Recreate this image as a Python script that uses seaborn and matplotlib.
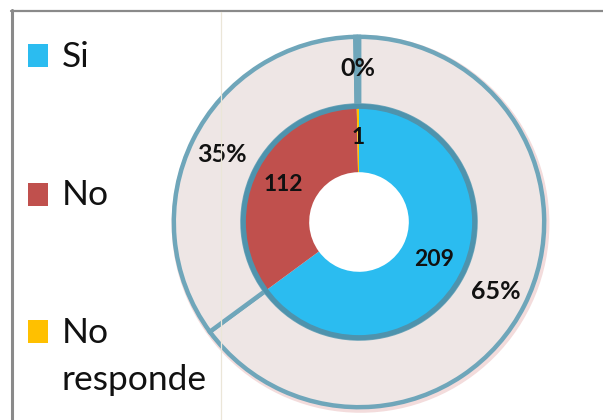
import matplotlib
matplotlib.use("Agg")
import matplotlib.pyplot as plt
import seaborn as sns
from matplotlib.patches import Rectangle, Circle
from matplotlib.lines import Line2D

# ---- data ----
categories = ["Si", "No", "No responde"]
counts = [209, 112, 1]
percent_labels = ["65%", "35%", "0%"]
legend_lines = [["Si"], ["No"], ["No", "responde"]]
colors = ["#2bbcf0", "#c0504d", "#ffc000"]

sns.set_theme(style="white")
plt.rcParams['font.family'] = ['Lato', 'DejaVu Sans']
palette = sns.color_palette(colors)

W, H = 603, 420
fig = plt.figure(figsize=(W / 100, H / 100), dpi=100)
fig.patch.set_facecolor("white")

def fx(px):
    return px / W

def fy(py):
    return 1 - py / H

# frame lines
fig.add_artist(Line2D([fx(11.5), fx(11.5)], [fy(10), fy(420)], color="#8a8a8a", lw=2.2))
fig.add_artist(Line2D([fx(10.5), fx(603)], [fy(11), fy(11)], color="#8a8a8a", lw=1.6))
fig.add_artist(Line2D([fx(220.5), fx(220.5)], [fy(12), fy(420)], color="#ebe6d8", lw=0.9))

# pie axes: center (359, 222), radius 188 px
cx, cy, R = 359, 222, 188
ax = fig.add_axes([fx(cx - R), fy(cy + R), 2 * R / W, 2 * R / H])
ax.set_facecolor("none")

# faint pink glow behind outer ring
glow = Circle((0.008, -0.01), 0.99, facecolor="none", edgecolor="#f3dcdc", lw=4, zorder=0)
glow.set_clip_on(False)
ax.add_patch(glow)

# outer ring (percentages)
outer_w, outer_t = ax.pie(
    counts, radius=0.985, startangle=90, counterclock=False,
    labels=percent_labels, labeldistance=0.815 / 0.985,
    colors=["#eee6e5"] * len(counts),
    wedgeprops=dict(width=0.985 - 0.62, edgecolor="#6fa6ba", linewidth=3.2),
    textprops=dict(fontsize=18, fontweight="bold", color="#111111"),
)
for t in outer_t:
    t.set_ha("center")
    t.set_va("center")
for w in outer_w:
    w.set_clip_on(False)

# inner ring (counts)
inner_w, inner_t = ax.pie(
    counts, radius=0.615, startangle=90, counterclock=False,
    labels=[str(c) for c in counts], labeldistance=0.447 / 0.615,
    colors=palette,
    wedgeprops=dict(width=0.615 - 0.265, edgecolor="none", linewidth=0),
    textprops=dict(fontsize=16.5, fontweight="bold", color="#111111"),
)
for t in inner_t:
    t.set_ha("center")
    t.set_va("center")
ax.add_patch(Circle((0, 0), 0.615, facecolor="none", edgecolor="#4e93ad", lw=3.6, zorder=3))

ax.set_xlim(-1, 1)
ax.set_ylim(-1, 1)
ax.set_aspect("equal")
ax.axis("off")

# legend (manual placement)
sq_tops = [44, 183, 320]
baselines = [67, 205, 343]
line_step = 47
for col, lines, top, base in zip(palette, legend_lines, sq_tops, baselines):
    fig.add_artist(Rectangle((fx(28), fy(top + 23)), 20 / W, 23 / H,
                             facecolor=col, edgecolor="none", transform=fig.transFigure))
    for i, line in enumerate(lines):
        fig.text(fx(62), fy(base + i * line_step), line, fontsize=25.5, color="#111111",
                 va="baseline", ha="left")

fig.savefig("out.png", dpi=100, facecolor="white")
